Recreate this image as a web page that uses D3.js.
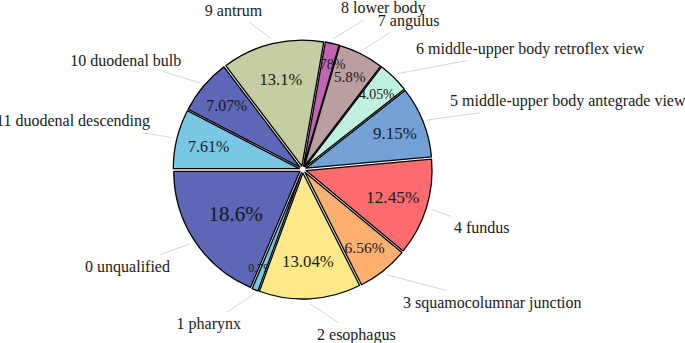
<!DOCTYPE html>
<html>
<head>
<meta charset="utf-8">
<script src="https://cdn.jsdelivr.net/npm/d3@7"></script>
<style>
  html, body { margin: 0; padding: 0; background: #fff; }
</style>
</head>
<body>
<svg id="chart" width="685" height="343"></svg>
<script>
// data
const categories = ['0 unqualified', '1 pharynx', '2 esophagus', '3 squamocolumnar junction', '4 fundus',
  '5 middle-upper body antegrade view', '6 middle-upper body retroflex view', '7 angulus', '8 lower body',
  '9 antrum', '10 duodenal bulb', '11 duodenal descending'];
const shares = [18.6, 0.79, 13.04, 6.56, 12.45, 9.15, 4.05, 5.8, 1.78, 13.1, 7.07, 7.61];
const colors = ['#5d66b7', '#74c8e6', '#fde98a', '#fdb06f', '#fd6b6f', '#73a1d6',
  '#bff0e0', '#bb9ea0', '#c264b4', '#c5cda3', '#5d66b7', '#78c7e5'];

// layout (label placement factors, percent text size / distance)
const labelFx = [1.263, 1.33, 1.99, 1.276, 1.257, 1.258, 1.281, 1.32, 1.33, 1.37, 1.26, 1.247];
const labelFy = [1.387, 1.318, 1.308, 1.345, 1.55, 1.49, 1.354, 1.33, 1.32, 1.30, 1.35, 1.66];
const pctSize = [21, 12, 16.8, 15.5, 17.3, 17, 13.8, 15.2, 14, 16.6, 15.9, 16.1];
const pctDist = [0.61, 0.81, 0.70, 0.76, 0.72, 0.76, 0.81, 0.80, 0.83, 0.71, 0.76, 0.74];

const FONT = '"Liberation Serif", "Times New Roman", serif';
const cx = 302.7, cy = 169.5, R = 126, explode = 3.5;
const svg = d3.select('#chart');
const root = svg.append('g').attr('transform', `translate(${cx},${cy})`);

const pie = d3.pie().value(d => d).sort(null)
  .startAngle(-Math.PI / 2).endAngle(-Math.PI / 2 - 2 * Math.PI);
const arcs = pie(shares);
const arc = d3.arc().innerRadius(0).outerRadius(R);
const dir = a => [Math.sin(a), -Math.cos(a)];

// wedges, each followed by its own percent text (later wedges cover earlier texts)
const slices = root.append('g');
arcs.forEach((d, i) => {
  const m = (d.startAngle + d.endAngle) / 2;
  const [ux, uy] = dir(m);
  const g = slices.append('g').attr('transform', `translate(${ux * explode},${uy * explode})`);
  g.append('path').attr('d', arc(d))
    .attr('fill', colors[i]).attr('stroke', '#000').attr('stroke-width', 1.3)
    .attr('stroke-linejoin', 'round');
  g.append('text')
    .attr('x', ux * R * pctDist[i]).attr('y', uy * R * pctDist[i])
    .attr('dy', '0.35em').attr('text-anchor', 'middle')
    .style('font-family', FONT).style('font-size', pctSize[i] + 'px').style('fill', '#1a1a1a')
    .text(shares[i] + '%');
});

// outer labels with leader lines
const lines = root.append('g');
const labels = root.append('g');
arcs.forEach((d, i) => {
  const m = (d.startAngle + d.endAngle) / 2;
  const [ux, uy] = dir(m);
  const tx = labelFx[i] * R * ux, ty = labelFy[i] * R * uy;
  const t = labels.append('text')
    .attr('x', tx).attr('y', ty).attr('dy', '0.35em')
    .attr('text-anchor', ux >= 0 ? 'start' : 'end')
    .style('font-family', FONT).style('font-size', '16px').style('fill', '#1a1a1a')
    .text(categories[i]);
  const b = t.node().getBBox();
  const pad = 3;
  const x0 = ux * (R + explode + 5), y0 = uy * (R + explode + 5);
  const bx = b.x + b.width / 2, by = b.y + b.height / 2;
  const hw = b.width / 2 + pad, hh = b.height / 2 + pad;
  const dx = bx - x0, dy = by - y0;
  // fraction of the segment where it enters the padded text box
  const sx = Math.abs(dx) > 1e-6 ? 1 - hw / Math.abs(dx) : -Infinity;
  const sy = Math.abs(dy) > 1e-6 ? 1 - hh / Math.abs(dy) : -Infinity;
  const s = Math.max(0, Math.max(sx, sy));
  lines.append('line')
    .attr('x1', x0).attr('y1', y0)
    .attr('x2', x0 + dx * s).attr('y2', y0 + dy * s)
    .attr('stroke', '#cfcfcf').attr('stroke-width', 0.9);
});
</script>
</body>
</html>
